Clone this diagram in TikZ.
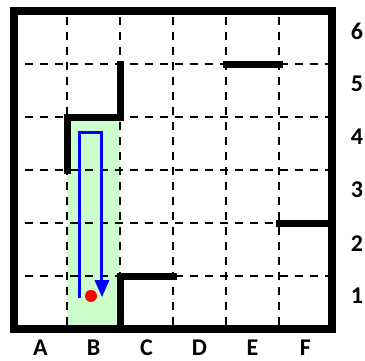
\documentclass[tikz,border=0pt]{standalone}
\usepackage{fontspec}
\setmainfont{Carlito}
\usepackage{xcolor}
\usepackage{tikz}
\usetikzlibrary{arrows.meta}
\definecolor{mzpath}{rgb}{0.80,1.00,0.80}
\definecolor{mzblue}{rgb}{0,0,1}
\definecolor{mzred}{rgb}{1,0,0}
\tikzset{
  wall/.style={line width=7pt, line cap=rect, line join=miter},
  gridline/.style={line width=2.5pt, dash pattern=on 8pt off 7pt},
  lbl/.style={font=\fontsize{24}{28}\selectfont\bfseries, inner sep=0pt}
}

\begin{document}
\begin{tikzpicture}[x=53pt, y=53pt]
  \useasboundingbox (-14pt,-31pt) rectangle (351pt,329pt);
  % corridor in column B
  \fill[mzpath] (1,0) rectangle (2,4);
  % dashed cell borders
  \foreach \i in {1,...,5} {
    \draw[gridline] (\i,0.08) -- (\i,5.92);
    \draw[gridline] (0.2,\i) -- (5.92,\i);
  }
  % route
  \coordinate (start) at (1.245,0.585);
  \coordinate (turnA) at (1.245,3.70);
  \coordinate (turnB) at (1.66,3.70);
  \coordinate (goal) at (1.66,0.60);
  \draw[mzblue, line width=3pt, -{Triangle[length=17pt,width=14pt]}]
    (start) -- (turnA) -- (turnB) -- (goal);
  \fill[mzred] (1.453,0.623) circle (6pt);
  % walls
  \draw[wall] (1,3) -- (1,4) -- (2,4) -- (2,5);
  \draw[wall] (2,0) -- (2,1) -- (3,1);
  \draw[wall] (4,5) -- (5,5);
  \draw[wall] (5,2) -- (6,2);
  \draw[line width=8pt, line join=miter] (0,0) rectangle (6,6);
  % labels
  \foreach \l [count=\c from 0] in {A,B,C,D,E,F}
    \node[lbl] (col\l) at (\c+0.5,-0.35) {\l};
  \foreach \r in {1,...,6}
    \node[lbl] (row\r) at (6.47,\r-0.38) {\r};
\end{tikzpicture}
\end{document}
